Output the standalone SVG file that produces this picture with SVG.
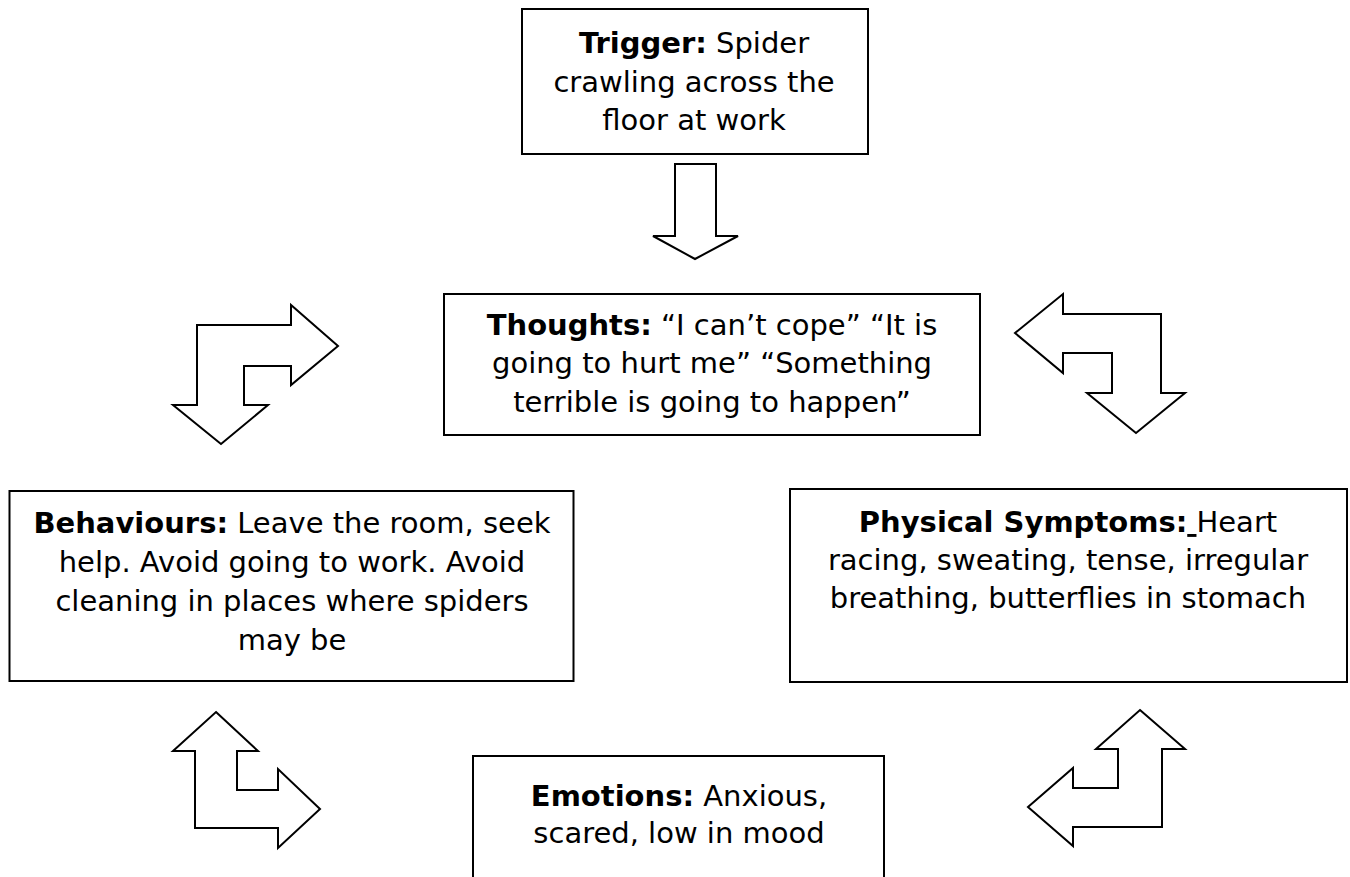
<svg xmlns="http://www.w3.org/2000/svg" width="1350" height="877" viewBox="0 0 1350 877">
<style>
.box{fill:#fff;stroke:#000;stroke-width:2}
.arr{fill:#fff;stroke:#000;stroke-width:2;stroke-linejoin:miter}
text{font-family:"DejaVu Sans","Liberation Sans",sans-serif;font-size:29px;fill:#000;text-anchor:middle}
.b{font-weight:bold}
</style>
<rect width="1350" height="877" fill="#fff"/>
<g id="trigger">
<rect class="box" x="522" y="9" width="346" height="145"/>
<text x="694" y="53"><tspan class="b">Trigger:</tspan> Spider</text>
<text x="694" y="92">crawling across the</text>
<text x="694" y="130">floor at work</text>
</g>
<g id="thoughts">
<rect class="box" x="444" y="294" width="536" height="141"/>
<text x="712" y="335"><tspan class="b">Thoughts:</tspan> “I can’t cope” “It is</text>
<text x="712" y="373">going to hurt me” “Something</text>
<text x="712" y="412">terrible is going to happen”</text>
</g>
<g id="behaviours">
<rect class="box" x="9.5" y="491" width="564" height="190"/>
<text x="292" y="533"><tspan class="b">Behaviours:</tspan> Leave the room, seek</text>
<text x="292" y="572">help. Avoid going to work. Avoid</text>
<text x="292" y="611">cleaning in places where spiders</text>
<text x="292" y="650">may be</text>
</g>
<g id="physical">
<rect class="box" x="790" y="489" width="557" height="193"/>
<text x="1068" y="532"><tspan class="b">Physical Symptoms:</tspan><tspan text-decoration="underline"> </tspan>Heart</text>
<text x="1068" y="570">racing, sweating, tense, irregular</text>
<text x="1068" y="608">breathing, butterflies in stomach</text>
</g>
<g id="emotions">
<rect class="box" x="473" y="756" width="411" height="140"/>
<text x="679" y="806"><tspan class="b">Emotions:</tspan> Anxious,</text>
<text x="679" y="843">scared, low in mood</text>
</g>
<g id="connectors">
<polygon class="arr" points="675,164 716,164 716,236 738,236 695,259 653,236 675,236"/>
<polygon class="arr" points="197,325 291,325 291,305 338,346 291,385 291,366 244,366 244,405 268,405 221,444 173,405 197,405"/>
<polygon class="arr" points="1063,294 1063,314 1161,314 1161,393 1185,393 1136,433 1087,393 1112,393 1112,353 1063,353 1063,373 1015,333"/>
<polygon class="arr" points="216,712 258,751 237,751 237,790 278,790 278,769 320,809 278,848 278,828 195,828 195,751 173,751"/>
<polygon class="arr" points="1140,710 1185,749 1162,749 1162,827 1073,827 1073,846 1028,807 1073,768 1073,788 1118,788 1118,749 1096,749"/>
</g>
</svg>
